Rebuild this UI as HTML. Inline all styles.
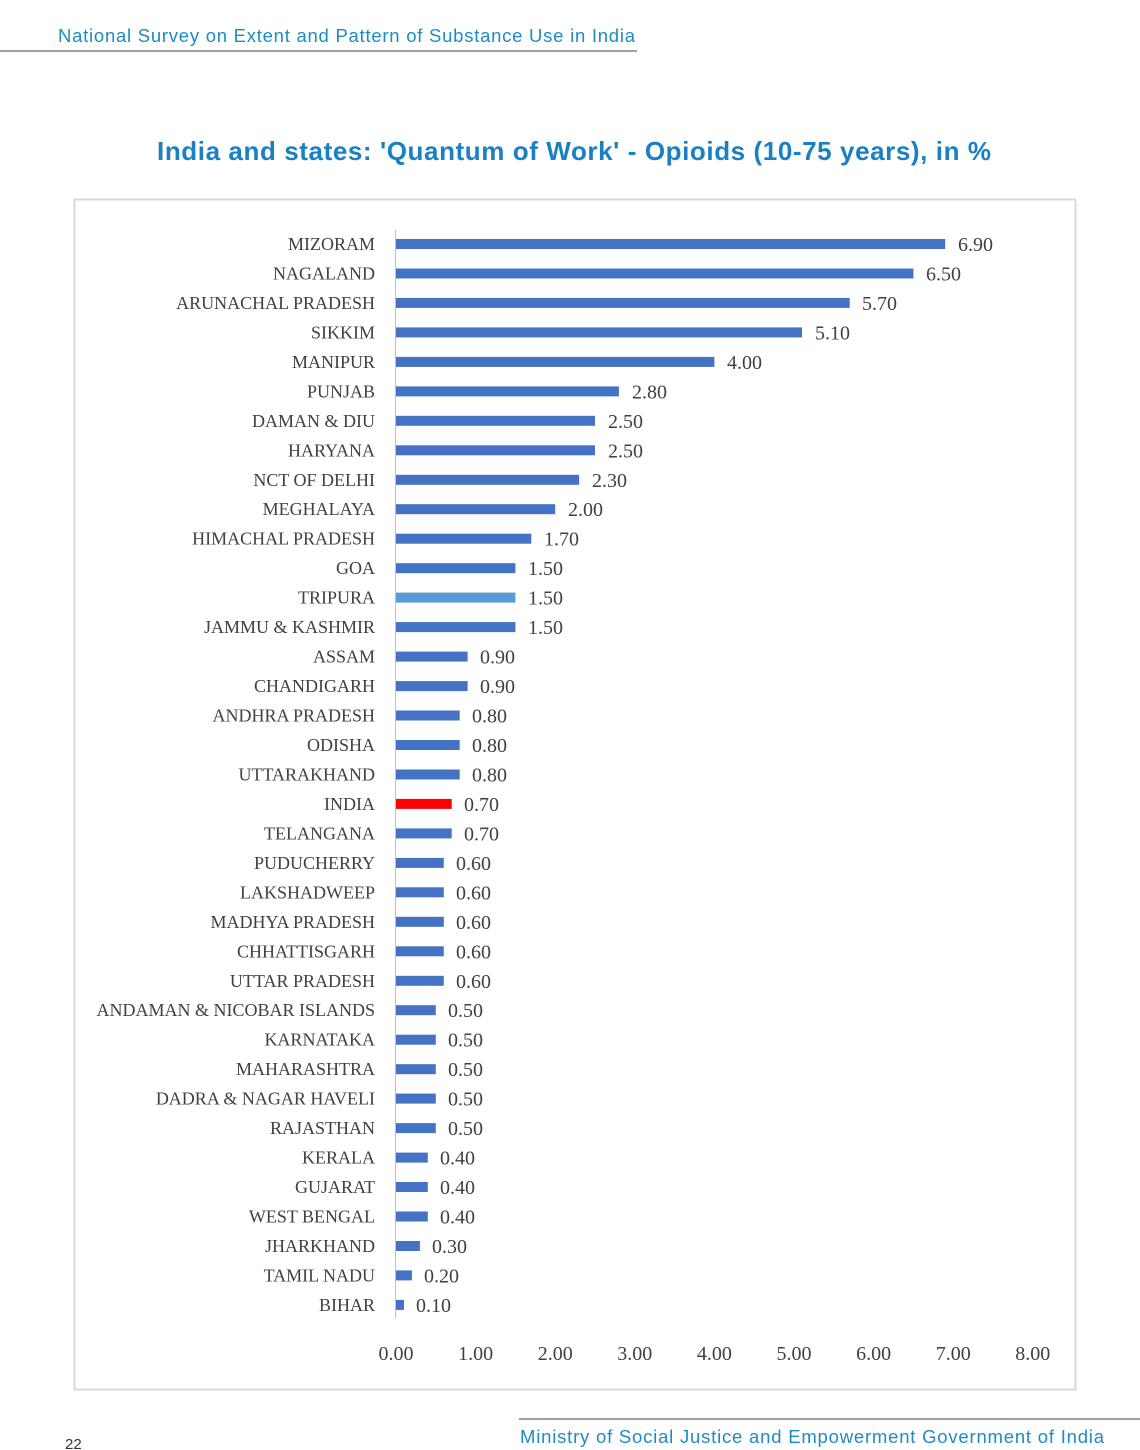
<!DOCTYPE html>
<html><head><meta charset="utf-8"><style>
html,body{margin:0;padding:0;background:#fff;width:1140px;height:1450px;overflow:hidden}
svg{display:block}
.l{font-family:"Liberation Serif",serif;font-size:18px;fill:#404040;text-anchor:end}
.v{font-family:"Liberation Serif",serif;font-size:20px;fill:#404040}
.t{font-family:"Liberation Serif",serif;font-size:20px;fill:#404040;text-anchor:middle}
</style></head><body>
<svg width="1140" height="1450" xmlns="http://www.w3.org/2000/svg">
<text x="58" y="42" font-family="Liberation Sans,sans-serif" font-size="18.5" fill="#1e8bc3" textLength="577">National Survey on Extent and  Pattern of Substance Use in India</text>
<line x1="0" y1="51" x2="637" y2="51" stroke="#808080" stroke-width="1.5"/>
<text x="574" y="160" text-anchor="middle" font-family="Liberation Sans,sans-serif" font-weight="bold" font-size="26" fill="#1a80c4" textLength="834">India and states: 'Quantum of Work' - Opioids (10-75 years), in %</text>
<rect x="74.5" y="199.5" width="1001" height="1190" fill="none" stroke="#d9d9d9" stroke-width="2"/>
<line x1="395.5" y1="230" x2="395.5" y2="1318" stroke="#bfbfbf" stroke-width="1"/>
<g fill="#4472c4">
<g transform="translate(0,244)"><rect x="396" y="-5" width="549.2" height="10"/><text class="l" x="375" y="6">MIZORAM</text><text class="v" x="958" y="7">6.90</text></g>
<g transform="translate(0,273.5)"><rect x="396" y="-5" width="517.4" height="10"/><text class="l" x="375" y="6">NAGALAND</text><text class="v" x="926" y="7">6.50</text></g>
<g transform="translate(0,302.9)"><rect x="396" y="-5" width="453.7" height="10"/><text class="l" x="375" y="6">ARUNACHAL PRADESH</text><text class="v" x="862" y="7">5.70</text></g>
<g transform="translate(0,332.4)"><rect x="396" y="-5" width="406" height="10"/><text class="l" x="375" y="6">SIKKIM</text><text class="v" x="815" y="7">5.10</text></g>
<g transform="translate(0,361.9)"><rect x="396" y="-5" width="318.4" height="10"/><text class="l" x="375" y="6">MANIPUR</text><text class="v" x="727" y="7">4.00</text></g>
<g transform="translate(0,391.4)"><rect x="396" y="-5" width="222.9" height="10"/><text class="l" x="375" y="6">PUNJAB</text><text class="v" x="632" y="7">2.80</text></g>
<g transform="translate(0,420.8)"><rect x="396" y="-5" width="199" height="10"/><text class="l" x="375" y="6">DAMAN &amp; DIU</text><text class="v" x="608" y="7">2.50</text></g>
<g transform="translate(0,450.3)"><rect x="396" y="-5" width="199" height="10"/><text class="l" x="375" y="6">HARYANA</text><text class="v" x="608" y="7">2.50</text></g>
<g transform="translate(0,479.8)"><rect x="396" y="-5" width="183.1" height="10"/><text class="l" x="375" y="6">NCT OF DELHI</text><text class="v" x="592" y="7">2.30</text></g>
<g transform="translate(0,509.2)"><rect x="396" y="-5" width="159.2" height="10"/><text class="l" x="375" y="6">MEGHALAYA</text><text class="v" x="568" y="7">2.00</text></g>
<g transform="translate(0,538.7)"><rect x="396" y="-5" width="135.3" height="10"/><text class="l" x="375" y="6">HIMACHAL PRADESH</text><text class="v" x="544" y="7">1.70</text></g>
<g transform="translate(0,568.2)"><rect x="396" y="-5" width="119.4" height="10"/><text class="l" x="375" y="6">GOA</text><text class="v" x="528" y="7">1.50</text></g>
<g transform="translate(0,597.6)"><rect x="396" y="-5" width="119.4" height="10" fill="#5b9bd5"/><text class="l" x="375" y="6">TRIPURA</text><text class="v" x="528" y="7">1.50</text></g>
<g transform="translate(0,627.1)"><rect x="396" y="-5" width="119.4" height="10"/><text class="l" x="375" y="6">JAMMU &amp; KASHMIR</text><text class="v" x="528" y="7">1.50</text></g>
<g transform="translate(0,656.6)"><rect x="396" y="-5" width="71.6" height="10"/><text class="l" x="375" y="6">ASSAM</text><text class="v" x="480" y="7">0.90</text></g>
<g transform="translate(0,686.1)"><rect x="396" y="-5" width="71.6" height="10"/><text class="l" x="375" y="6">CHANDIGARH</text><text class="v" x="480" y="7">0.90</text></g>
<g transform="translate(0,715.5)"><rect x="396" y="-5" width="63.7" height="10"/><text class="l" x="375" y="6">ANDHRA PRADESH</text><text class="v" x="472" y="7">0.80</text></g>
<g transform="translate(0,745)"><rect x="396" y="-5" width="63.7" height="10"/><text class="l" x="375" y="6">ODISHA</text><text class="v" x="472" y="7">0.80</text></g>
<g transform="translate(0,774.5)"><rect x="396" y="-5" width="63.7" height="10"/><text class="l" x="375" y="6">UTTARAKHAND</text><text class="v" x="472" y="7">0.80</text></g>
<g transform="translate(0,803.9)"><rect x="396" y="-5" width="55.7" height="10" fill="#ff0000"/><text class="l" x="375" y="6">INDIA</text><text class="v" x="464" y="7">0.70</text></g>
<g transform="translate(0,833.4)"><rect x="396" y="-5" width="55.7" height="10"/><text class="l" x="375" y="6">TELANGANA</text><text class="v" x="464" y="7">0.70</text></g>
<g transform="translate(0,862.9)"><rect x="396" y="-5" width="47.8" height="10"/><text class="l" x="375" y="6">PUDUCHERRY</text><text class="v" x="456" y="7">0.60</text></g>
<g transform="translate(0,892.3)"><rect x="396" y="-5" width="47.8" height="10"/><text class="l" x="375" y="6">LAKSHADWEEP</text><text class="v" x="456" y="7">0.60</text></g>
<g transform="translate(0,921.8)"><rect x="396" y="-5" width="47.8" height="10"/><text class="l" x="375" y="6">MADHYA PRADESH</text><text class="v" x="456" y="7">0.60</text></g>
<g transform="translate(0,951.3)"><rect x="396" y="-5" width="47.8" height="10"/><text class="l" x="375" y="6">CHHATTISGARH</text><text class="v" x="456" y="7">0.60</text></g>
<g transform="translate(0,980.8)"><rect x="396" y="-5" width="47.8" height="10"/><text class="l" x="375" y="6">UTTAR PRADESH</text><text class="v" x="456" y="7">0.60</text></g>
<g transform="translate(0,1010.2)"><rect x="396" y="-5" width="39.8" height="10"/><text class="l" x="375" y="6">ANDAMAN &amp; NICOBAR ISLANDS</text><text class="v" x="448" y="7">0.50</text></g>
<g transform="translate(0,1039.7)"><rect x="396" y="-5" width="39.8" height="10"/><text class="l" x="375" y="6">KARNATAKA</text><text class="v" x="448" y="7">0.50</text></g>
<g transform="translate(0,1069.2)"><rect x="396" y="-5" width="39.8" height="10"/><text class="l" x="375" y="6">MAHARASHTRA</text><text class="v" x="448" y="7">0.50</text></g>
<g transform="translate(0,1098.6)"><rect x="396" y="-5" width="39.8" height="10"/><text class="l" x="375" y="6">DADRA &amp; NAGAR HAVELI</text><text class="v" x="448" y="7">0.50</text></g>
<g transform="translate(0,1128.1)"><rect x="396" y="-5" width="39.8" height="10"/><text class="l" x="375" y="6">RAJASTHAN</text><text class="v" x="448" y="7">0.50</text></g>
<g transform="translate(0,1157.6)"><rect x="396" y="-5" width="31.8" height="10"/><text class="l" x="375" y="6">KERALA</text><text class="v" x="440" y="7">0.40</text></g>
<g transform="translate(0,1187)"><rect x="396" y="-5" width="31.8" height="10"/><text class="l" x="375" y="6">GUJARAT</text><text class="v" x="440" y="7">0.40</text></g>
<g transform="translate(0,1216.5)"><rect x="396" y="-5" width="31.8" height="10"/><text class="l" x="375" y="6">WEST BENGAL</text><text class="v" x="440" y="7">0.40</text></g>
<g transform="translate(0,1246)"><rect x="396" y="-5" width="23.9" height="10"/><text class="l" x="375" y="6">JHARKHAND</text><text class="v" x="432" y="7">0.30</text></g>
<g transform="translate(0,1275.4)"><rect x="396" y="-5" width="15.9" height="10"/><text class="l" x="375" y="6">TAMIL NADU</text><text class="v" x="424" y="7">0.20</text></g>
<g transform="translate(0,1304.9)"><rect x="396" y="-5" width="8" height="10"/><text class="l" x="375" y="6">BIHAR</text><text class="v" x="416" y="7">0.10</text></g>
</g>
<g>
<text class="t" x="396" y="1360">0.00</text><text class="t" x="475.6" y="1360">1.00</text><text class="t" x="555.2" y="1360">2.00</text><text class="t" x="634.8" y="1360">3.00</text><text class="t" x="714.4" y="1360">4.00</text><text class="t" x="794" y="1360">5.00</text><text class="t" x="873.6" y="1360">6.00</text><text class="t" x="953.2" y="1360">7.00</text><text class="t" x="1032.8" y="1360">8.00</text>
</g>
<line x1="519" y1="1419" x2="1140" y2="1419" stroke="#808080" stroke-width="1.5"/>
<text x="520" y="1443" font-family="Liberation Sans,sans-serif" font-size="18.5" fill="#1e8bc3" textLength="584">Ministry of Social Justice and Empowerment Government of India</text>
<text x="65" y="1449" font-family="Liberation Sans,sans-serif" font-size="15" fill="#333">22</text>
</svg>
</body></html>
